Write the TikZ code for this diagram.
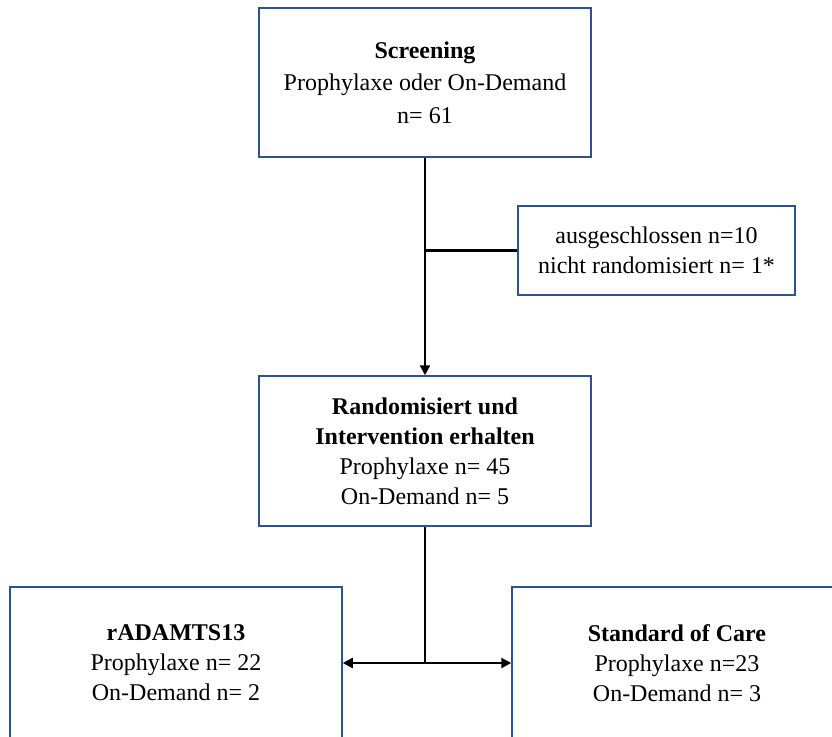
\documentclass[tikz,border=0pt]{standalone}
\usepackage{fontspec}
\setmainfont{Liberation Serif}
\usepackage{xcolor}
\usetikzlibrary{arrows.meta,positioning}
\definecolor{boxblue}{RGB}{47,82,143}

\begin{document}
\begin{tikzpicture}[
  x=1pt, y=-1pt,
  font=\fontsize{24}{30}\selectfont,
  box/.style={draw=boxblue, line width=1.5pt, align=center, fill=white, inner sep=0pt},
  arrow/.style={-{Triangle[length=10pt,width=10pt]}, line width=2.4pt},
  line/.style={line width=2.4pt}
]
\useasboundingbox (0,0) rectangle (832,736);
\clip (0,0) rectangle (832,736);
\node[box, minimum width=332pt, minimum height=149pt, font=\fontsize{24}{32.5}\selectfont] (screen) at (425,82.5) {\textbf{Screening}\\Prophylaxe oder On-Demand\\n= 61};
\node[box, minimum width=277pt, minimum height=89pt] (excl) at (656.5,250.5) {ausgeschlossen n=10\\nicht randomisiert n= 1*};
\node[box, minimum width=332pt, minimum height=150pt] (rand) at (425,451) {\textbf{Randomisiert und}\\\textbf{Intervention erhalten}\\Prophylaxe n= 45\\On-Demand n= 5};
\node[box, minimum width=332pt, minimum height=152pt] (armA) at (176,663) {\textbf{rADAMTS13}\\Prophylaxe n= 22\\On-Demand n= 2};
\node[box, minimum width=330pt, minimum height=152pt] (armB) at (677,663) {\textbf{Standard of Care}\\Prophylaxe n=23\\On-Demand n= 3};

\coordinate (branch) at (screen.south |- excl.west);
\coordinate (split) at (rand.south |- armA.east);

\draw[arrow] (screen) -- (rand);
\draw[line] (branch) -- (excl);
\draw[line] (rand) -- (split);
\draw[arrow] (split) -- (armA);
\draw[arrow] (split) -- (armB);
\end{tikzpicture}
\end{document}
